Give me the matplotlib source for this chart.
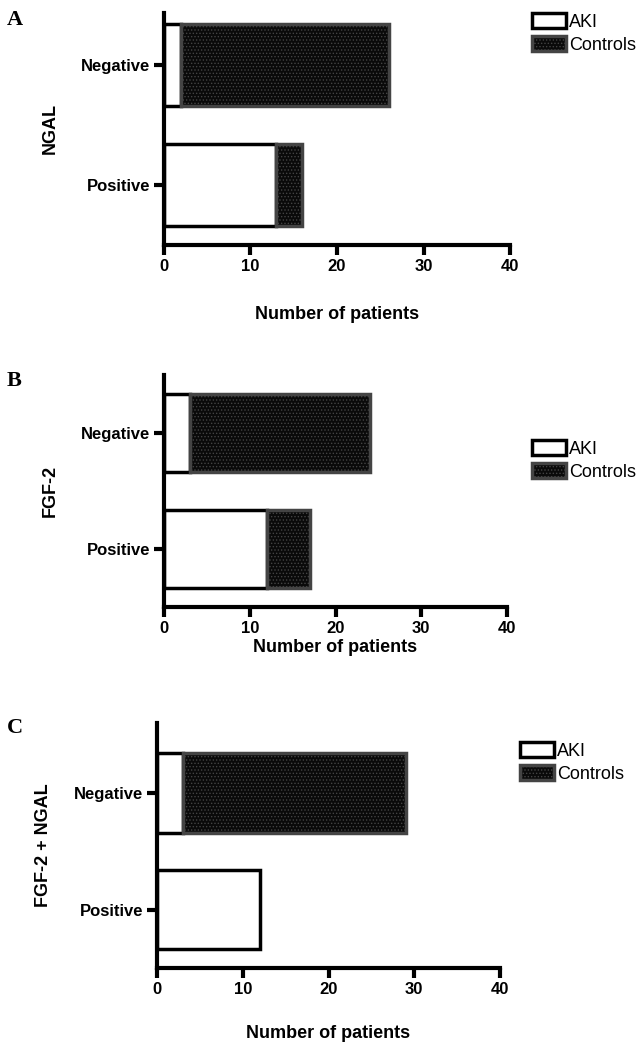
import numpy as np
import matplotlib
matplotlib.use('Agg')
import matplotlib.pyplot as plt

plt.rcParams['font.family'] = ['Liberation Sans', 'DejaVu Sans']
plt.rcParams['hatch.linewidth'] = 0.6

W, H = 642, 1050

categories = ['Positive', 'Negative']
series = ['AKI', 'Controls']
panel_letters = ['A', 'B', 'C']
panel_markers = ['NGAL', 'FGF-2', 'FGF-2 + NGAL']

# AKI and controls counts, order: Positive, Negative
aki_counts = [[13, 2], [12, 3], [12, 3]]
ctrl_counts = [[3, 24], [5, 21], [0, 26]]

xticks = [0, 10, 20, 30, 40]

# layout in pixels: left spine, top, bottom (x-axis), right (x=40)
frames = [(164, 13, 245, 510), (164, 375, 607, 507), (157, 723, 968, 500)]
ylims = [(-0.5, 1.43), (-0.5, 1.5), (-0.5, 1.6)]
xlabel_pad = [23, 2, 20]
legend_pos = [(532, 13), (532, 440), (520, 742)]
letter_pos = [(7, 25), (7, 386), (7, 733)]

fig = plt.figure(figsize=(W / 100, H / 100), dpi=100)

for i in range(3):
    l, t, b, r = frames[i]
    ax = fig.add_axes([l / W, 1 - b / H, (r - l) / W, (b - t) / H])
    y = np.arange(len(categories))
    aki = np.array(aki_counts[i])
    ctrl = np.array(ctrl_counts[i])

    ax.barh(y, aki, height=0.68, color='white', edgecolor='black',
            linewidth=2.5, label='AKI')
    keep = ctrl > 0
    ax.barh(y[keep], ctrl[keep], left=aki[keep], height=0.68, color='#0a0a0a',
            edgecolor='#444444', hatch='.....', linewidth=2.5, label='Controls')

    ax.set_xlim(0, 40)
    ax.set_ylim(*ylims[i])
    ax.set_xticks(xticks)
    ax.set_yticks(y)
    ax.set_yticklabels(categories)
    for side in ['top', 'right']:
        ax.spines[side].set_visible(False)
    for side in ['left', 'bottom']:
        ax.spines[side].set_linewidth(3)
    ax.tick_params(axis='both', width=3, length=7, direction='out',
                   labelsize=12, pad=3)
    for lab in ax.get_xticklabels() + ax.get_yticklabels():
        lab.set_fontweight('bold')

    ax.set_xlabel('Number of patients', fontsize=13, fontweight='bold',
                  labelpad=xlabel_pad[i])
    ax.set_ylabel(panel_markers[i], fontsize=13, fontweight='bold', labelpad=16)

    lx, ly = legend_pos[i]
    ax.legend(loc='upper left', bbox_to_anchor=(lx / W, 1 - ly / H),
              bbox_transform=fig.transFigure, frameon=False, fontsize=13,
              handlelength=1.9, handleheight=0.9, handletextpad=0.15,
              labelspacing=0.3, borderaxespad=0, borderpad=0)

    px, py = letter_pos[i]
    fig.text(px / W, 1 - py / H, panel_letters[i], fontsize=16,
             fontweight='bold', family='Liberation Serif', va='baseline')

fig.savefig('out.png', dpi=100)
